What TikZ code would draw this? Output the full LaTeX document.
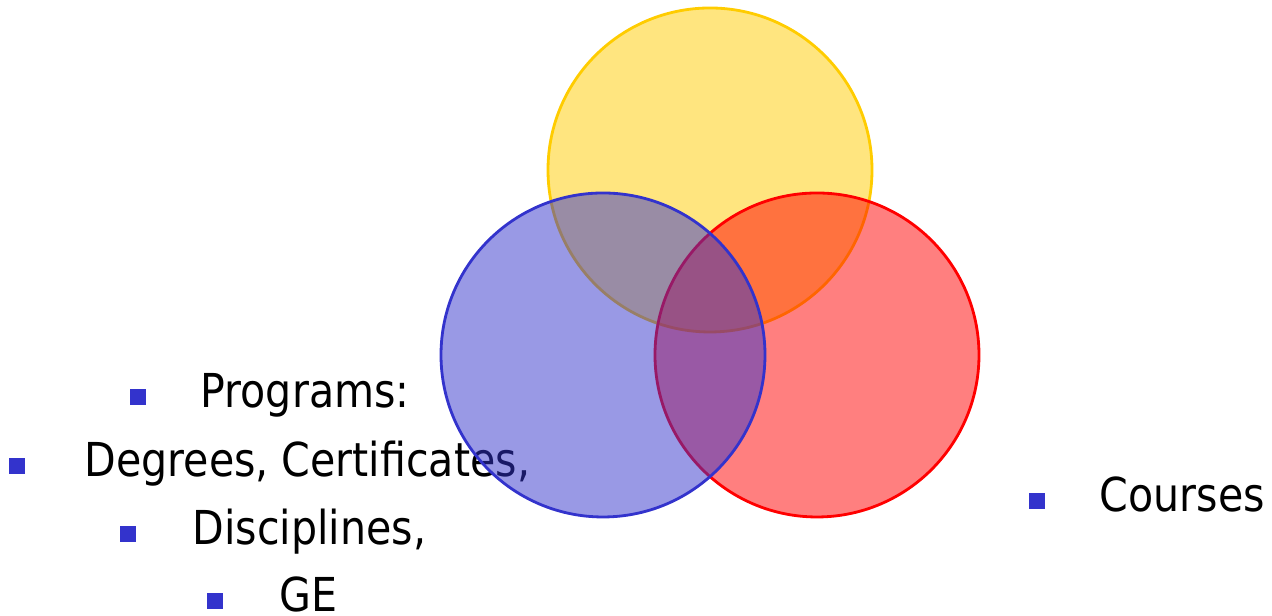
\documentclass[tikz,border=0pt]{standalone}
\usepackage{fontspec}
\setmainfont{DejaVu Sans}[FakeStretch=0.88]
\usetikzlibrary{positioning}

\definecolor{setgold}{RGB}{255,204,0}
\definecolor{setblue}{RGB}{51,51,204}
\definecolor{setred}{RGB}{255,0,0}

\begin{document}
\begin{tikzpicture}[
        set/.style={circle, draw, line width=0.8pt, minimum size=3.24cm, inner sep=0pt, fill opacity=0.5},
        item/.style={anchor=base west, inner sep=0pt, font=\fontsize{13.3pt}{16pt}\selectfont},
        bullet/.style={rectangle, fill=setblue, minimum size=0.16cm, inner sep=0pt, yshift=0.11cm}
    ]
        \useasboundingbox (0,0) rectangle (12.72,6.16);

        % Left list
        \node[item] (t1) at (2.00,2.08) {Programs:};
        \node[item] (t2) at (0.84,1.39) {Degrees, Certificates,};
        \node[item] (t3) at (1.92,0.71) {Disciplines,};
        \node[item] (t4) at (2.79,0.04) {GE};
        \node[bullet, left=0.53cm of t1.base west] (b1) {};
        \node[bullet, left=0.58cm of t2.base west] (b2) {};
        \node[bullet, left=0.55cm of t3.base west] (b3) {};
        \node[bullet, left=0.55cm of t4.base west] (b4) {};

        % Right item
        \node[item] (t5) at (10.99,1.04) {Courses};
        \node[bullet, left=0.53cm of t5.base west] (b5) {};

        % Three sets
        \node[set, draw=setgold, fill=setgold] (cgold) at (7.10,4.46) {};
        \node[set, draw=setred, fill=setred] (cred) at (8.17,2.61) {};
        \node[set, draw=setblue, fill=setblue] (cblue) at (6.03,2.61) {};
    \end{tikzpicture}
\end{document}
